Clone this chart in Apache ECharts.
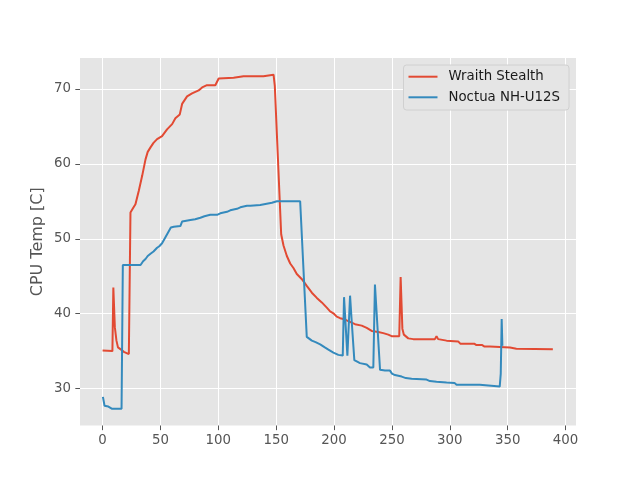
<!DOCTYPE html>
<html>
<head>
<meta charset="utf-8">
<script src="https://cdn.jsdelivr.net/npm/echarts@6/dist/echarts.min.js"></script>
<style>html,body{margin:0;padding:0;background:#fff;}#chart{width:640px;height:478px;}</style>
</head>
<body>
<div id="chart"></div>
<script>
const seriesNames = ['Wraith Stealth', 'Noctua NH-U12S'];
const xTicks = [0, 50, 100, 150, 200, 250, 300, 350, 400];
const yTicks = [30, 40, 50, 60, 70];

const wraithX = [0, 1, 8.5, 9.3, 10.6, 12, 13.3, 16, 18.4, 22.7, 24.1, 26, 28.4, 31.3, 34.2, 37.1, 39, 41.4, 44, 47.1, 51.4, 55.7, 60.1, 62.9, 66.7, 68.7, 73, 77.3, 83, 86, 90.2, 97.4, 100.3, 113.2, 121.8, 139, 140.5, 147.7, 148.8, 154.3, 156.3, 159.2, 162.1, 164.9, 167.8, 172.2, 176.4, 180.8, 185.1, 189.4, 193.7, 196.6, 199.4, 202.3, 205.2, 208, 212.3, 218.1, 223.9, 228.2, 232.5, 238.2, 242.5, 246.8, 249.7, 256.3, 257.5, 259, 260.3, 264.1, 268.4, 287.1, 288.5, 289.9, 297.2, 307.2, 309, 321, 323, 328, 330, 334.5, 336, 352, 353, 357.5, 359, 389];
const wraithY = [35.07, 34.9, 35.0, 43.5, 38.2, 36.4, 35.5, 35.2, 34.9, 34.6, 53.5, 54.0, 54.6, 56.4, 58.4, 60.6, 61.6, 62.2, 62.8, 63.3, 63.7, 64.6, 65.3, 66.1, 66.6, 68.0, 69.0, 69.4, 69.8, 70.2, 70.5, 70.5, 71.4, 71.5, 71.7, 71.7, 71.9, 71.9, 70.4, 50.6, 49.1, 47.7, 46.7, 46.1, 45.3, 44.6, 43.7, 42.8, 42.1, 41.5, 40.8, 40.3, 40.05, 39.6, 39.4, 39.3, 39.0, 38.6, 38.4, 38.1, 37.7, 37.55, 37.4, 37.2, 37.0, 37.0, 44.9, 38.0, 37.2, 36.7, 36.6, 36.6, 37.0, 36.6, 36.4, 36.3, 36.0, 36.0, 35.8, 35.8, 35.6, 35.6, 35.47, 35.47, 35.33, 35.33, 35.24, 35.24];

const noctuaX = [0.3, 1.7, 5, 8.3, 16.4, 17.5, 32.8, 35, 37.1, 39, 41.4, 44, 47.1, 49, 51.4, 54.3, 57.2, 59, 61.5, 67.2, 68.7, 75.9, 80, 84.5, 88, 93, 98.9, 101.7, 107.5, 110.3, 116.1, 119, 124.7, 127.6, 136.2, 137.7, 146.3, 150.6, 170.7, 176.4, 180.8, 184, 188, 192, 195.1, 199.4, 203.7, 207.5, 208.6, 211.5, 213.8, 215, 217.5, 222.4, 228.2, 231, 233.9, 235.3, 239.7, 244, 248.3, 250, 252.6, 258.4, 262, 267, 279.9, 282.8, 288.5, 297.2, 304, 305.8, 325.9, 327.3, 343.1, 344, 344.8, 345.4];
const noctuaY = [28.9, 27.7, 27.6, 27.3, 27.3, 46.5, 46.5, 47.0, 47.3, 47.7, 48.0, 48.3, 48.8, 49.0, 49.4, 50.2, 51.0, 51.5, 51.6, 51.7, 52.3, 52.5, 52.6, 52.8, 53.0, 53.2, 53.2, 53.4, 53.6, 53.8, 54.0, 54.2, 54.4, 54.4, 54.5, 54.6, 54.8, 55.0, 55.0, 36.9, 36.4, 36.2, 35.9, 35.5, 35.2, 34.8, 34.5, 34.4, 42.2, 34.4, 42.4, 39.5, 33.8, 33.4, 33.2, 32.8, 32.8, 43.9, 32.5, 32.4, 32.4, 32.0, 31.8, 31.6, 31.4, 31.3, 31.2, 31.0, 30.9, 30.8, 30.76, 30.5, 30.5, 30.27, 30.27, 32.0, 39.3, 35.7];

const colors = ['#E24A33', '#348ABD'];
const FONT = 'DejaVu Sans';

function pairs(xs, ys) { return xs.map((x, i) => [x, ys[i]]); }

const chart = echarts.init(document.getElementById('chart'), null, {renderer: 'canvas'});
chart.setOption({
  animation: false,
  backgroundColor: '#ffffff',
  textStyle: {fontFamily: FONT},
  grid: {left: 80, right: 64, top: 58, bottom: 52.5, show: true, backgroundColor: '#E5E5E5', borderWidth: 0},
  legend: {
    orient: 'vertical', right: 71, top: 65,
    data: seriesNames.map(n => ({name: n, icon: 'rect'})),
    itemWidth: 29, itemHeight: 2, itemGap: 4.6,
    padding: [3.7, 9, 4.7, 5],
    backgroundColor: '#E5E5E5', borderColor: '#D0D0D0', borderWidth: 1, borderRadius: 3,
    textStyle: {fontFamily: FONT, fontSize: 13.33, color: '#1a1a1a', lineHeight: 16, padding: [0, 0, 0, 6]}
  },
  xAxis: {
    type: 'value', min: -19.5, max: 409,
    axisLine: {show: false, onZero: false},
    axisTick: {show: true, customValues: xTicks, length: 4.67, lineStyle: {color: '#555555', width: 1}},
    axisLabel: {customValues: xTicks, margin: 9, color: '#555555', fontFamily: FONT, fontSize: 13.33},
    splitLine: {show: true, lineStyle: {color: '#ffffff', width: 1.07}}
  },
  yAxis: {
    type: 'value', min: 25.07, max: 74.13,
    name: 'CPU Temp [C]', nameLocation: 'middle', nameRotate: 90, nameGap: 34, nameMoveOverlap: false,
    nameTextStyle: {color: '#555555', fontFamily: FONT, fontSize: 16},
    axisLine: {show: false, onZero: false},
    axisTick: {show: true, customValues: yTicks, length: 4.67, lineStyle: {color: '#555555', width: 1}},
    axisLabel: {customValues: yTicks, margin: 9, color: '#555555', fontFamily: FONT, fontSize: 13.33},
    splitLine: {show: true, lineStyle: {color: '#ffffff', width: 1.07}}
  },
  series: [
    {name: seriesNames[0], type: 'line', data: pairs(wraithX, wraithY), symbol: 'none', color: colors[0], lineStyle: {width: 2, color: colors[0]}, z: 2},
    {name: seriesNames[1], type: 'line', data: pairs(noctuaX, noctuaY), symbol: 'none', color: colors[1], lineStyle: {width: 2, color: colors[1]}, z: 3}
  ]
});
</script>
</body>
</html>
